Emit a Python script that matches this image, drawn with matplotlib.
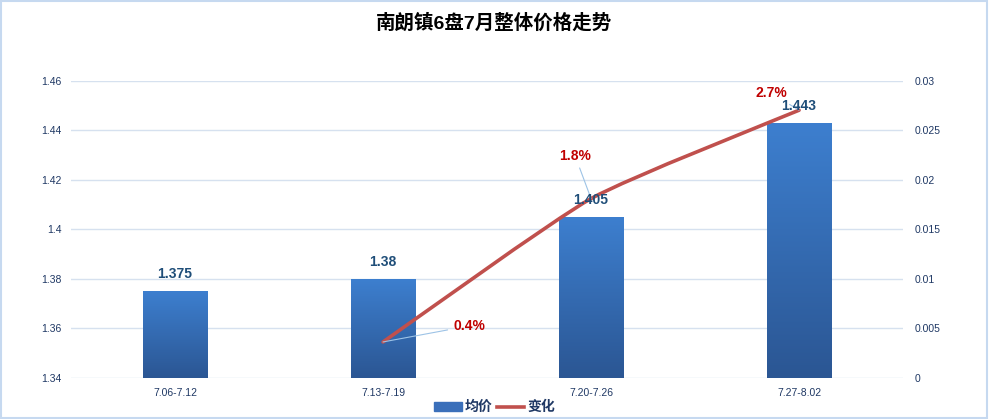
import matplotlib
matplotlib.use("Agg")
import matplotlib.pyplot as plt
import numpy as np
from matplotlib.path import Path
from matplotlib.patches import PathPatch, Rectangle
from matplotlib.lines import Line2D
from matplotlib.colors import LinearSegmentedColormap

plt.rcParams['font.family'] = ['Liberation Sans', 'Noto Sans CJK SC', 'DejaVu Sans']

# data
categories = ['7.06-7.12', '7.13-7.19', '7.20-7.26', '7.27-8.02']
avg_price = [1.375, 1.38, 1.405, 1.443]
change = [None, 0.00364, 0.01812, 0.02705]
change_labels = ['', '0.4%', '1.8%', '2.7%']
left_ticks = [1.34, 1.36, 1.38, 1.40, 1.42, 1.44, 1.46]
right_ticks = [0, 0.005, 0.01, 0.015, 0.02, 0.025, 0.03]

tick_col = '#1f3864'
grid_col = '#d6e1ef'
bar_top = '#3d7fcf'
bar_bot = '#2b5693'
line_col = '#c0504d'

fig = plt.figure(figsize=(9.89, 4.19), dpi=100)
ax = fig.add_axes([0.0718, 0.0979, 0.8413, 0.7088])
ax2 = ax.twinx()

x = np.arange(len(categories))
w = 0.31

# bars with a vertical gradient
bars = ax.bar(x, avg_price, width=w, color=bar_top, bottom=0, zorder=2)
cmap = LinearSegmentedColormap.from_list('barg', [bar_bot, bar_top])
grad = np.linspace(0, 1, 256).reshape(-1, 1)
for b, xi, v in zip(bars, x, avg_price):
    im = ax.imshow(grad, cmap=cmap, origin='lower', aspect='auto',
                   extent=(xi - w / 2, xi + w / 2, left_ticks[0], v), zorder=3)
    im.set_clip_path(b)

ax.set_xlim(-0.5, len(categories) - 0.5)
ax.set_ylim(left_ticks[0], left_ticks[-1])
ax.set_yticks(left_ticks)
ax.set_yticklabels(['{:g}'.format(t) for t in left_ticks])
ax.set_xticks(x)
ax.set_xticklabels(categories)
ax.grid(axis='y', color=grid_col, lw=1, zorder=0)
ax.set_axisbelow(True)
ax.tick_params(length=0, labelsize=7.5, colors=tick_col)
ax.tick_params(axis='y', pad=7)
ax.tick_params(axis='x', pad=7)
for s in ax.spines.values():
    s.set_visible(False)

ax2.set_ylim(right_ticks[0], right_ticks[-1])
ax2.set_yticks(right_ticks)
ax2.set_yticklabels(['{:g}'.format(t) for t in right_ticks])
ax2.tick_params(length=0, labelsize=7.5, colors=tick_col, pad=8)
for s in ax2.spines.values():
    s.set_visible(False)

# smoothed change line (bezier through the points, loose tension)
px = [xi for xi, c in zip(x, change) if c is not None]
py = [c for c in change if c is not None]
P = np.column_stack([px, py])
n = len(P)
k = 0.09
verts = [P[0]]
codes = [Path.MOVETO]
for i in range(n - 1):
    p_prev = P[i - 1] if i > 0 else P[i]
    p_next = P[i + 2] if i + 2 < n else P[i + 1]
    c1 = P[i] + (P[i + 1] - p_prev) * k
    c2 = P[i + 1] - (p_next - P[i]) * k
    verts += [c1, c2, P[i + 1]]
    codes += [Path.CURVE4] * 3
ax2.add_patch(PathPatch(Path(verts, codes), fill=False, edgecolor=line_col,
                        lw=2.6, capstyle='round', zorder=4))

# percent labels with leader lines
offs = [None, (86, 16), (-16, 43), (-28, 17)]
for xi, c, lab, o in zip(x, change, change_labels, offs):
    if c is None:
        continue
    ax2.annotate(lab, (xi, c), xytext=o, textcoords='offset pixels',
                 ha='center', va='center', fontsize=10, fontweight='bold',
                 color='#c00000', zorder=6,
                 arrowprops=dict(arrowstyle='-', color='#9dc3e6', lw=0.8,
                                 shrinkA=2, shrinkB=0))

# bar value labels, on top of the line
for xi, v in zip(x, avg_price):
    ax2.annotate('{:g}'.format(v), (xi, v), xycoords=ax.transData,
                 xytext=(0, 17), textcoords='offset pixels',
                 ha='center', va='center', fontsize=10, fontweight='bold',
                 color='#1f4e79', zorder=7)

fig.text(0.5, 0.945, '南朗镇6盘7月整体价格走势', ha='center', va='center',
         fontsize=14, fontweight='bold', color='black')

handles = [Rectangle((0, 0), 1, 1, color='#3a6fba'),
           Line2D([0], [0], color=line_col, lw=2.6)]
fig.legend(handles, ['均价', '变化'], loc='center', bbox_to_anchor=(0.5, 0.028),
           ncol=2, frameon=False, handlelength=2.0, handleheight=0.6,
           handletextpad=0.2, columnspacing=0.3,
           prop={'weight': 'bold', 'size': 10}, labelcolor=tick_col)

fig.patches.append(Rectangle((0.001, 0.002), 0.997, 0.995, transform=fig.transFigure,
                             fill=False, edgecolor='#c6d9f0', lw=1.5))

fig.savefig('out.png', dpi=100)
